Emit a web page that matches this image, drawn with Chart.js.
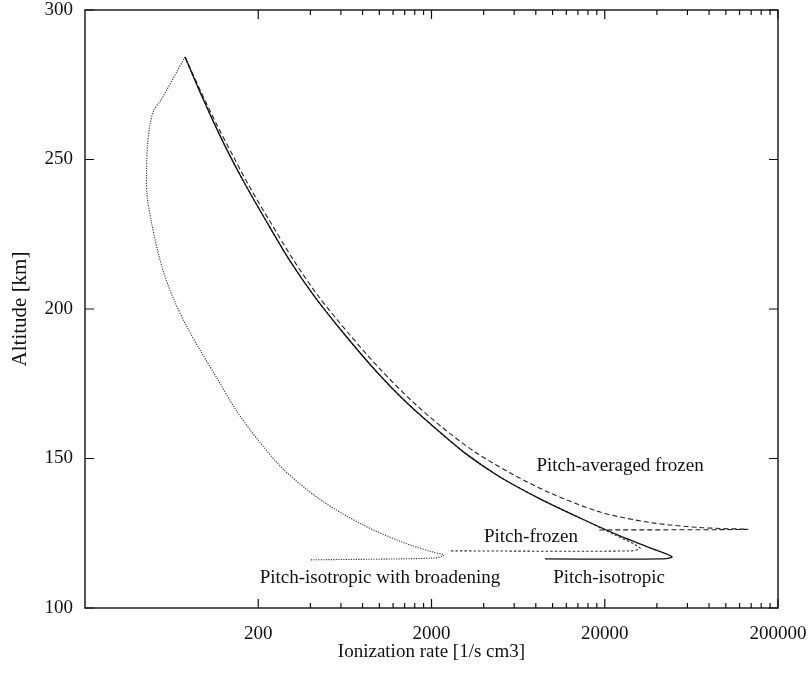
<!DOCTYPE html>
<html>
<head>
<meta charset="utf-8">
<script src="https://cdn.jsdelivr.net/npm/chart.js@4/dist/chart.umd.min.js"></script>
<style>
  html, body { margin: 0; padding: 0; background: #fff; }
  canvas { display: block; }
</style>
</head>
<body>
<canvas id="grafico" width="808" height="673"></canvas>
<script>
// tick values
const rateTicks = [200, 2000, 20000, 200000];
const altTicks = [100, 150, 200, 250, 300];

// Pitch-isotropic (solid)
const isoRate = [75.6, 92.2, 112.6, 137.4, 167.7, 218.8, 305, 425, 634, 944, 1406, 2095, 3122, 4971, 8458, 14390, 24490, 36500, 48890, 41680, 9040];
const isoAlt  = [284.3, 272.6, 261.5, 251.2, 241.8, 230.1, 216.1, 204.0, 191.3, 179.6, 169.2, 160.2, 151.8, 143.8, 136.5, 130.1, 124.1, 120.1, 117.1, 116.4, 116.4];

// Pitch-frozen (dotted, mostly hidden under the solid one)
const frozenRate = [75.6, 92.2, 112.6, 137.4, 167.7, 218.8, 305, 425, 634, 944, 1406, 2095, 3122, 4971, 8458, 14390, 22920, 31940, 28720, 2558];
const frozenAlt  = [284.3, 272.6, 261.5, 251.2, 241.8, 230.1, 216.1, 204.0, 191.3, 179.6, 169.2, 160.2, 151.8, 143.8, 136.5, 130.1, 124.4, 120.1, 119.1, 119.1];

// Pitch-averaged frozen (dashed)
const avgRate = [75.6, 93.5, 115.6, 143.0, 174.5, 229.2, 321.8, 448.4, 677, 1022, 1543, 2330, 3565, 5678, 9662, 18780, 36500, 70920, 132500, 18050];
const avgAlt  = [284.3, 272.6, 261.5, 251.2, 241.8, 230.1, 216.1, 204.0, 191.3, 179.6, 169.2, 160.2, 152.2, 145.2, 138.5, 132.1, 128.6, 126.9, 126.3, 126.1];

// Pitch-isotropic with broadening (fine dots)
const broadRate = [75.6, 54.9, 50.0, 47.4, 45.9, 45.3, 45.6, 48.1, 52.4, 57.5, 65.3, 76.6, 92.2, 117.1, 148.8, 199.4, 281.6, 460.4, 804.6, 1406, 2040, 2362, 2068, 398];
const broadAlt  = [284.3, 269.9, 266.6, 261.5, 254.8, 246.5, 238.1, 229.8, 219.7, 211.4, 203.0, 194.6, 186.3, 176.3, 166.2, 156.2, 146.2, 136.1, 127.8, 121.7, 118.7, 117.7, 116.7, 116.1];

const pts = (xs, ys) => xs.map((v, i) => ({ x: v, y: ys[i] }));

// minor ticks like gnuplot: linear steps inside each decade
const minorTicks = [];
rateTicks.slice(0, 3).forEach(m => {
  for (let k = 2; k <= 9; k++) minorTicks.push(m * k);
});

const notas = [
  { text: "Pitch-averaged frozen", x: 24500, y: 147.5 },
  { text: "Pitch-frozen", x: 7500, y: 123.7 },
  { text: "Pitch-isotropic with broadening", x: 1008, y: 110.0 },
  { text: "Pitch-isotropic", x: 21180, y: 110.0 }
];

const fonte = '"Liberation Serif", "Times New Roman", serif';

const moldura = {
  id: 'moldura',
  afterDraw(chart) {
    const { ctx, chartArea: a, scales: { x, y } } = chart;
    ctx.save();
    ctx.strokeStyle = '#111';
    ctx.lineWidth = 1.4;
    ctx.strokeRect(a.left, a.top, a.right - a.left, a.bottom - a.top);

    ctx.lineWidth = 1.2;
    ctx.beginPath();
    rateTicks.forEach(v => {
      const px = x.getPixelForValue(v);
      ctx.moveTo(px, a.bottom); ctx.lineTo(px, a.bottom - 9);
      ctx.moveTo(px, a.top); ctx.lineTo(px, a.top + 9);
    });
    minorTicks.forEach(v => {
      const px = x.getPixelForValue(v);
      ctx.moveTo(px, a.bottom); ctx.lineTo(px, a.bottom - 5);
      ctx.moveTo(px, a.top); ctx.lineTo(px, a.top + 5);
    });
    altTicks.forEach(v => {
      const py = y.getPixelForValue(v);
      ctx.moveTo(a.left, py); ctx.lineTo(a.left + 9, py);
      ctx.moveTo(a.right, py); ctx.lineTo(a.right - 9, py);
    });
    ctx.stroke();

    ctx.fillStyle = '#111';
    ctx.font = '19px ' + fonte;
    ctx.textAlign = 'center';
    ctx.textBaseline = 'middle';
    notas.forEach(n => ctx.fillText(n.text, x.getPixelForValue(n.x), y.getPixelForValue(n.y)));
    ctx.restore();
  }
};

const linha = (label, xs, ys, cor, largura, traco, ordem) => ({
  label,
  data: pts(xs, ys),
  showLine: true,
  borderColor: cor,
  borderWidth: largura,
  borderDash: traco,
  pointRadius: 0,
  tension: 0.3,
  order: ordem
});

new Chart(document.getElementById("grafico"), {
  type: 'scatter',
  data: {
    datasets: [
      linha("Pitch-isotropic", isoRate, isoAlt, '#111', 1.3, [], 1),
      linha("Pitch-averaged frozen", avgRate, avgAlt, '#222', 1.1, [5, 3], 2),
      linha("Pitch-frozen", frozenRate, frozenAlt, '#333', 1.1, [2.5, 2], 3),
      linha("Pitch-isotropic with broadening", broadRate, broadAlt, '#333', 1.1, [1.2, 1.3], 4)
    ]
  },
  options: {
    responsive: false,
    animation: false,
    layout: { padding: { top: 10, right: 30, left: 0, bottom: 0 } },
    plugins: {
      legend: { display: false },
      tooltip: { enabled: false }
    },
    scales: {
      x: {
        type: 'logarithmic',
        min: 20, max: 200000,
        afterBuildTicks: s => { s.ticks = rateTicks.map(v => ({ value: v })); },
        afterFit: s => { s.height = 65; s.paddingLeft = 0; s.paddingRight = 0; },
        grid: { display: false, drawTicks: false },
        border: { display: false },
        ticks: {
          color: '#111', padding: 15, maxRotation: 0, autoSkip: false,
          font: { family: fonte, size: 19 },
          callback: v => String(v)
        },
        title: {
          display: true, text: "Ionization rate [1/s cm3]", color: '#111',
          font: { family: fonte, size: 19 }, padding: { top: 0, bottom: 10 }
        }
      },
      y: {
        min: 100, max: 300,
        afterBuildTicks: s => { s.ticks = altTicks.map(v => ({ value: v })); },
        afterFit: s => { s.width = 85; s.paddingTop = 0; s.paddingBottom = 0; },
        grid: { display: false, drawTicks: false },
        border: { display: false },
        ticks: {
          color: '#111', padding: 12,
          font: { family: fonte, size: 19 }
        },
        title: {
          display: true, text: "Altitude [km]", color: '#111',
          font: { family: fonte, size: 21 }, padding: { top: 8, bottom: 0 }
        }
      }
    }
  },
  plugins: [moldura]
});
</script>
</body>
</html>
